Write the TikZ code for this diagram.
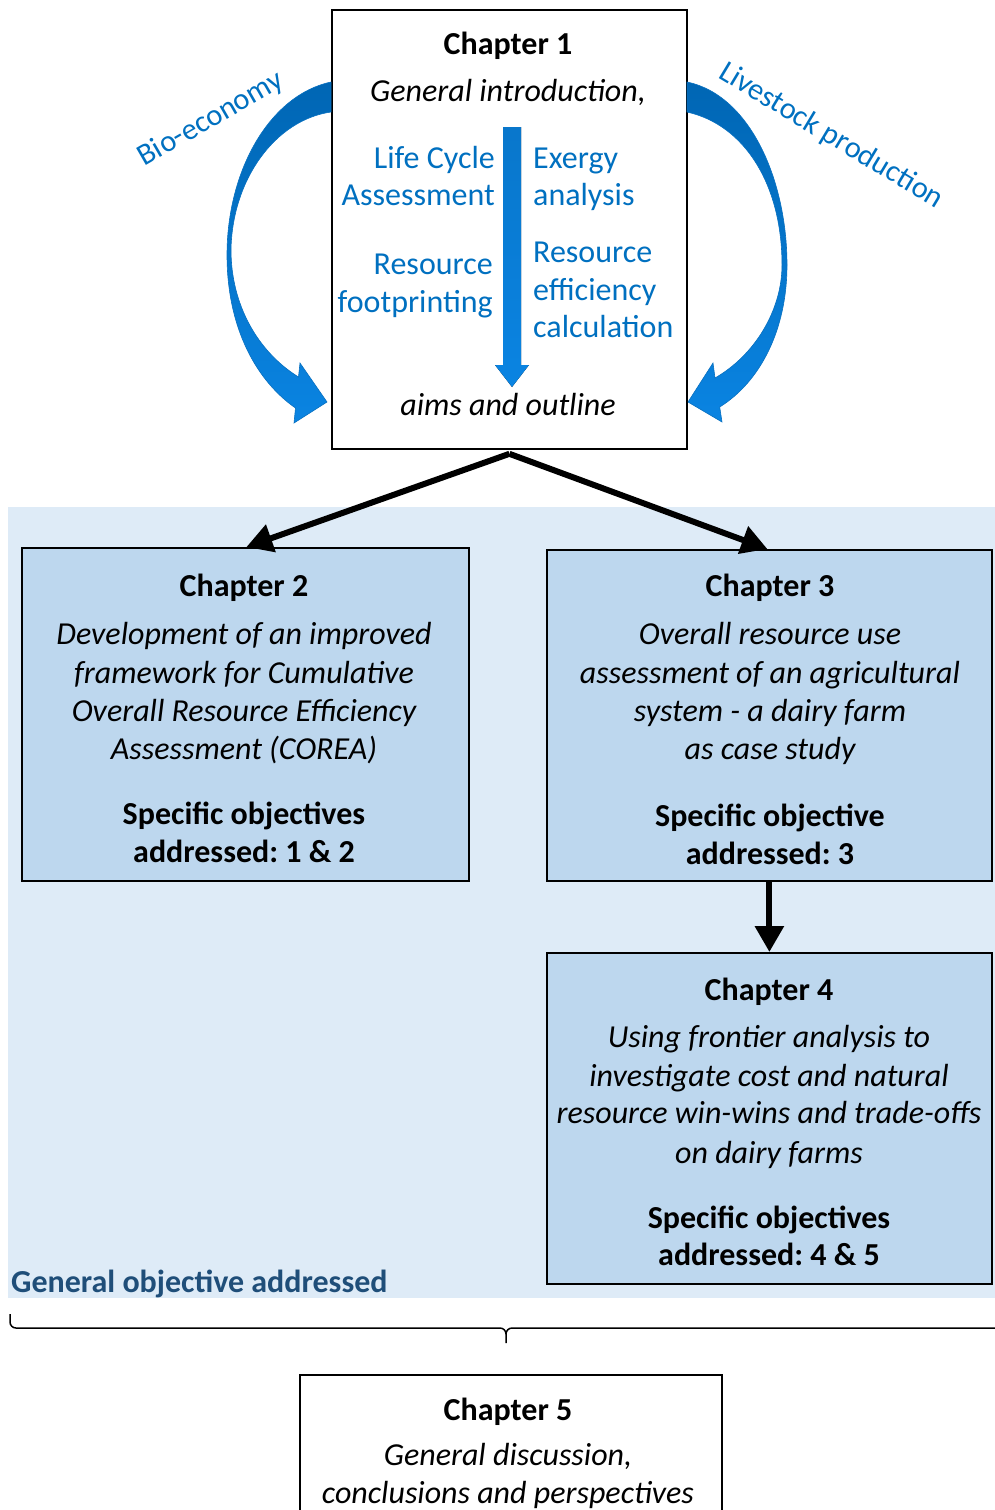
\documentclass[tikz,border=0pt]{standalone}
\usepackage{fontspec}
\setmainfont{Carlito}
\usetikzlibrary{arrows.meta}
\frenchspacing

\definecolor{txtblue}{HTML}{0070C0}
\definecolor{bgblue}{HTML}{DEEBF7}
\definecolor{boxblue}{HTML}{BDD7EE}
\definecolor{objblue}{HTML}{1F4E79}
\definecolor{arrtop}{HTML}{0066B4}
\definecolor{arrbot}{HTML}{0A84E2}

\begin{document}
\begin{tikzpicture}[x=1pt,y=-1pt,
  box/.style={draw=black, line width=1.8pt, anchor=north west, inner sep=0pt},
  tx/.style={font=\fontsize{32}{38}\selectfont, inner sep=0pt, anchor=base},
  ttl/.style={tx, font=\fontsize{32}{38}\selectfont\bfseries},
  itl/.style={tx, font=\fontsize{32}{38}\selectfont\itshape},
  btx/.style={tx, text=txtblue},
  sidelabel/.style={btx, anchor=center, font=\fontsize{30.5}{36}\selectfont},
  link/.style={line width=6pt, -{Triangle[length=26pt,width=28pt]}},
  curvearrow/.style={top color=arrtop, bottom color=arrbot, draw=arrbot!85!black, line width=0.6pt}]

\useasboundingbox (0,0) rectangle (995,1510);

% shaded band behind chapters 2-4
\node[fill=bgblue, anchor=north west, inner sep=0pt, minimum width=987pt, minimum height=791pt] (bg) at (8,507) {};

% chapter boxes
\node[box, fill=white, minimum width=355pt, minimum height=439pt] (ch1) at (331,9) {};
\node[box, fill=boxblue, minimum width=447pt, minimum height=333pt] (ch2) at (21,547) {};
\node[box, fill=boxblue, minimum width=445pt, minimum height=331pt] (ch3) at (546,549) {};
\node[box, fill=boxblue, minimum width=445pt, minimum height=331pt] (ch4) at (546,952) {};
\node[box, fill=white, minimum width=422pt, minimum height=160pt] (ch5) at (299,1374) {};

% curved arrows beside chapter 1
\path[curvearrow] (331,82) .. controls (270,95) and (227,170) .. (227,255)
  .. controls (227,330) and (258,382) .. (295.5,408) -- (294,423) -- (327,402) -- (300,363) -- (298.5,377)
  .. controls (258,352) and (231,305) .. (231,250)
  .. controls (232,180) and (275,120) .. (331,112) -- cycle;
\path[curvearrow] (687,82) .. controls (750,95) and (787,180) .. (787,265)
  .. controls (787,330) and (760,382) .. (719.7,407) -- (722,422) -- (688,402) -- (713,363) -- (715,378)
  .. controls (755,355) and (782,310) .. (782,265)
  .. controls (782,185) and (745,125) .. (687,112) -- cycle;
\node[sidelabel, rotate=30] (bio) at (211,119) {Bio-economy};
\node[sidelabel, rotate=-31] (live) at (831,136) {Livestock production};

% vertical arrow inside chapter 1
\fill[top color=arrbot!90!black, bottom color=arrbot] (503,127) -- (521,127) -- (521,365) -- (529,365)
  -- (512,387) -- (495,365) -- (503,365) -- cycle;

% chapter 1 text
\node[ttl] (t1) at (508,54) {Chapter 1};
\node[itl] (t1a) at (508,101) {General introduction,};
\node[btx, anchor=base east] (lca1) at (495,168) {Life Cycle};
\node[btx, anchor=base east] (lca2) at (495,205) {Assessment};
\node[btx, anchor=base east] (rf1) at (493,274) {Resource};
\node[btx, anchor=base east] (rf2) at (493,312) {footprinting};
\node[btx, anchor=base west] (ex1) at (533,168) {Exergy};
\node[btx, anchor=base west] (ex2) at (533,205) {analysis};
\node[btx, anchor=base west] (re1) at (533,262) {Resource};
\node[btx, anchor=base west] (re2) at (533,300) {efficiency};
\node[btx, anchor=base west] (re3) at (533,337) {calculation};
\node[itl] (t1b) at (508,415) {aims and outline};

% chapter 2 text
\node[ttl] (t2) at (244,596) {Chapter 2};
\node[itl] (t2a) at (244,644) {Development of an improved};
\node[itl] (t2b) at (244,683) {framework for Cumulative};
\node[itl] (t2c) at (244,721) {Overall Resource Efficiency};
\node[itl] (t2d) at (244,759) {Assessment (COREA)};
\node[ttl] (t2e) at (244,824) {Specific objectives};
\node[ttl] (t2f) at (244,862) {addressed: 1 \& 2};

% chapter 3 text
\node[ttl] (t3) at (770,596) {Chapter 3};
\node[itl] (t3a) at (770,644) {Overall resource use};
\node[itl] (t3b) at (770,683) {assessment of an agricultural};
\node[itl] (t3c) at (770,721) {system - a dairy farm};
\node[itl] (t3d) at (770,759) {as case study};
\node[ttl] (t3e) at (770,826) {Specific objective};
\node[ttl] (t3f) at (770,864) {addressed: 3};

% chapter 4 text
\node[ttl] (t4) at (769,1000) {Chapter 4};
\node[itl] (t4a) at (769,1047) {Using frontier analysis to};
\node[itl] (t4b) at (769,1086) {investigate cost and natural};
\node[itl] (t4c) at (769,1123) {resource win-wins and trade-offs};
\node[itl] (t4d) at (769,1163) {on dairy farms};
\node[ttl] (t4e) at (769,1228) {Specific objectives};
\node[ttl] (t4f) at (769,1265) {addressed: 4 \& 5};

% chapter 5 text
\node[ttl] (t5) at (508,1420) {Chapter 5};
\node[itl] (t5a) at (508,1465) {General discussion,};
\node[itl] (t5b) at (508,1503) {conclusions and perspectives};

% band label
\node[tx, anchor=base west, text=objblue, font=\fontsize{32}{38}\selectfont\bfseries] (gen) at (11,1292) {General objective addressed};

% connectors
\draw[link] ([yshift=-4pt]ch1.south) -- ([xshift=1pt]ch2.north);
\draw[link] ([yshift=-4pt]ch1.south) -- ([xshift=-2pt]ch3.north);
\draw[link] (ch3.south) -- (ch4.north);

% brace gathering chapters 2-4
\coordinate (bl) at (10,1314);
\coordinate (bm) at (506,1343);
\coordinate (br) at (1000,1328);
\draw[line width=1.5pt] (bl) -- (10,1322) to[out=-90,in=180] (16,1328) -- (500,1328)
  to[out=0,in=90] (506,1334) -- (bm);
\draw[line width=1.5pt] (506,1334) to[out=90,in=180] (512,1328) -- (br);
\end{tikzpicture}
\end{document}
